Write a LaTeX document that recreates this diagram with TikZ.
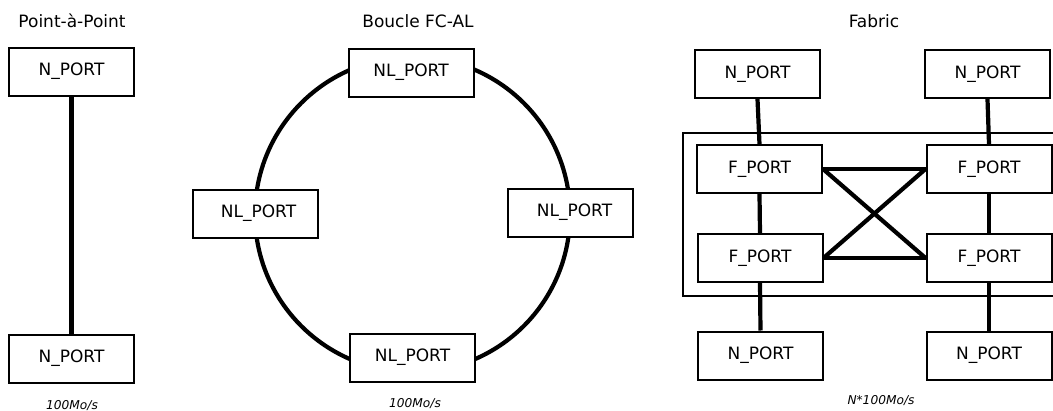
\documentclass[tikz,border=0pt]{standalone}
\usepackage{fontspec}
\setmainfont{DejaVu Sans}
\begin{document}
\begin{tikzpicture}[x=1pt,y=-1pt,
  port/.style={draw, line width=2pt, fill=white, minimum width=125pt, minimum height=48pt, inner sep=0pt, font=\fontsize{17}{20}\selectfont},
  title/.style={anchor=base, inner sep=0pt, font=\fontsize{17}{20}\selectfont},
  speed/.style={anchor=base, inner sep=0pt, font=\fontsize{12.2}{15}\selectfont\itshape},
  link/.style={line width=4.2pt},
  frame/.style={line width=2pt}]
\useasboundingbox (0,0) rectangle (1053,410);
\clip (0,0) rectangle (1053,410);
% titles
\node[title] (t1) at (72,27) {Point-à-Point};
\node[title] (t2) at (418,27) {Boucle FC-AL};
\node[title] (t3) at (874,27) {Fabric};
% Point-a-Point
\node[port] (p1) at (71.5,71.5) {N\_PORT};
\node[port] (p2) at (71.5,358.5) {N\_PORT};
\draw[link] (p1) -- (p2);
\node[speed] (s1) at (72,409) {100Mo/s};
% Loop
\draw[link] (412.5,214.5) circle (157.5);
\node[port] (lt) at (411,72.5) {NL\_PORT};
\node[port] (ll) at (255.5,213.5) {\hspace{6pt}NL\_PORT};
\node[port] (lr) at (570,212.5) {\hspace{9pt}NL\_PORT};
\node[port] (lb) at (412.5,357.5) {NL\_PORT};
\node[speed] (s2) at (415,407) {100Mo/s};
% Fabric
\draw[frame] (683,133) rectangle (1070,296);
\node[port] (ntl) at (757.5,74) {N\_PORT};
\node[port] (ntr) at (987.5,74) {N\_PORT};
\node[port] (ftl) at (759.5,169) {F\_PORT};
\node[port] (ftr) at (989,169) {F\_PORT};
\node[port] (fbl) at (760,258) {F\_PORT};
\node[port] (fbr) at (989,258) {F\_PORT};
\node[port] (nbl) at (760.5,355.5) {N\_PORT};
\node[port] (nbr) at (989,355.5) {N\_PORT};
\draw[link] (ntl.south) -- (ftl.north);
\draw[link] (ntr.south) -- (ftr.north);
\draw[link] (ftl.south) -- (fbl.north);
\draw[link] (ftr.south) -- (fbr.north);
\draw[link] (fbl.south) -- (nbl.north);
\draw[link] (fbr.south) -- (nbr.north);
\draw[link] (ftl.east) -- (ftr.west);
\draw[link] (fbl.east) -- (fbr.west);
\draw[link] (ftl.east) -- (fbr.west);
\draw[link] (fbl.east) -- (ftr.west);
\node[speed] (s3) at (881,404) {N*100Mo/s};
\end{tikzpicture}
\end{document}
